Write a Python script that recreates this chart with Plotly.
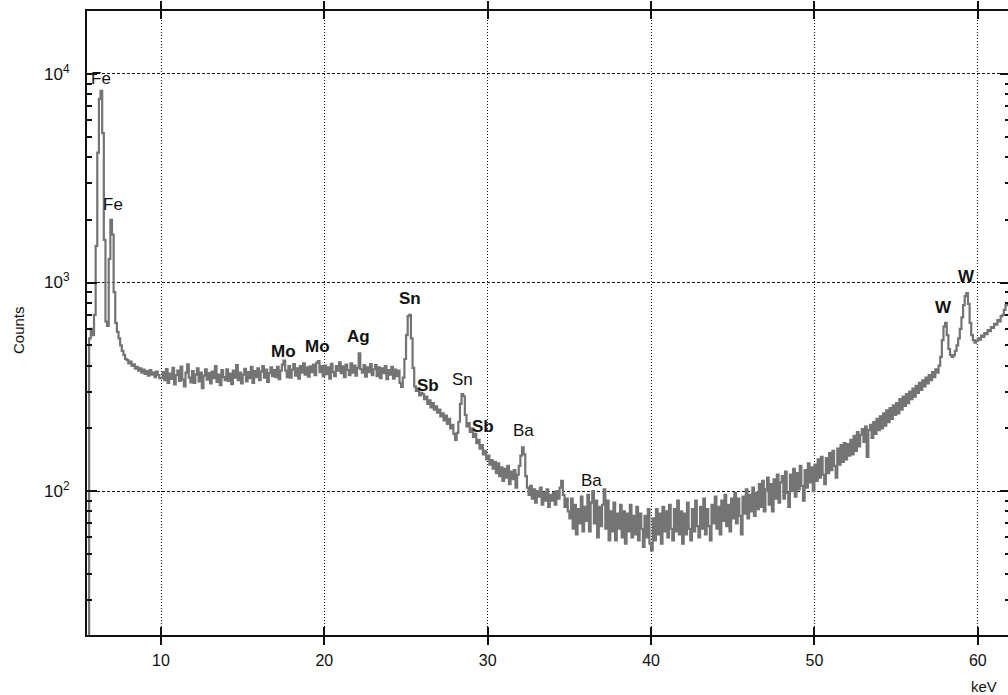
import math
import plotly.graph_objects as go

# Energy calibration of the first channel and channel width (keV)
E_START = 5.5
E_STEP = 0.1

# Counts per channel, 10 channels per row
counts_5 = [15, 540, 600, 560, 700, 1500, 4200, 7600, 8300, 5200]          # 5.5 - 6.4
counts_6 = [1600, 650, 620, 1300, 2000, 1700, 900, 640, 580, 540]          # 6.5 - 7.4
counts_7 = [500, 470, 450, 430, 425, 410, 418, 398, 405, 386]              # 7.5 - 8.4
counts_8 = [394, 378, 388, 370, 382, 365, 376, 358, 380, 362]              # 8.5 - 9.4
counts_9 = [371, 352, 374, 360, 348]                                        # 9.5 - 9.9
counts_10 = [348, 372, 340, 385, 330, 366, 345, 390, 325, 360]
counts_11 = [378, 338, 395, 342, 318, 370, 405, 350, 332, 376]
counts_12 = [330, 362, 388, 336, 370, 312, 358, 384, 342, 368]
counts_13 = [328, 374, 348, 398, 334, 362, 322, 380, 352, 340]
counts_14 = [384, 338, 366, 326, 378, 350, 402, 340, 370, 328]
counts_15 = [362, 386, 336, 372, 348, 394, 330, 376, 352, 388]
counts_16 = [340, 374, 398, 350, 382, 334, 368, 392, 356, 380]
counts_17 = [352, 394, 344, 378, 404, 422, 378, 352, 398, 350]
counts_18 = [382, 406, 358, 388, 346, 398, 370, 410, 362, 392]
counts_19 = [354, 396, 372, 404, 360, 412, 420, 372, 398, 356]
counts_20 = [400, 364, 392, 346, 408, 372, 356, 398, 378, 414]
counts_21 = [368, 396, 352, 404, 380, 360, 410, 370, 400, 358]
counts_22 = [390, 458, 384, 370, 402, 354, 392, 372, 406, 360]
counts_23 = [384, 402, 356, 392, 348, 388, 368, 398, 344, 380]
counts_24 = [362, 394, 346, 382, 356, 378, 330, 316, 350, 430]
counts_25 = [560, 690, 700, 540, 390, 318, 302, 310, 288, 296]
counts_26 = [292, 276, 284, 262, 272, 252, 264, 246, 255, 238]
counts_27 = [246, 228, 236, 218, 230, 210, 222, 200, 208, 188]
counts_28 = [176, 190, 215, 262, 292, 285, 232, 204, 212, 192]
counts_29 = [200, 182, 188, 170, 176, 160, 166, 150, 156, 142]
counts_30 = [148, 134, 141, 128, 138, 122, 136, 118, 130, 112]
counts_31 = [128, 116, 132, 108, 124, 114, 126, 104, 120, 132]
counts_32 = [148, 162, 150, 118, 104, 96, 106, 92, 102, 88]
counts_33 = [100, 94, 104, 86, 98, 90, 102, 84, 96, 90]
counts_34 = [98, 86, 100, 92, 104, 112, 96, 84, 92, 80]
counts_35 = [74, 92, 66, 86, 62, 82, 70, 94, 64, 84]
counts_36 = [72, 96, 64, 88, 100, 70, 90, 60, 84, 68]
counts_37 = [86, 102, 66, 90, 58, 80, 64, 88, 58, 78]
counts_38 = [66, 86, 60, 80, 56, 78, 64, 86, 60, 76]
counts_39 = [62, 84, 58, 78, 66, 54, 76, 60, 82, 56]
counts_40 = [52, 74, 58, 82, 62, 78, 56, 84, 64, 80]
counts_41 = [60, 86, 66, 58, 82, 64, 90, 62, 80, 56]
counts_42 = [78, 62, 88, 66, 58, 82, 64, 90, 68, 60]
counts_43 = [84, 66, 92, 62, 82, 68, 58, 86, 70, 94]
counts_44 = [66, 84, 62, 90, 72, 96, 68, 86, 64, 92]
counts_45 = [74, 98, 70, 92, 76, 62, 94, 78, 102, 74]
counts_46 = [96, 80, 104, 76, 98, 82, 108, 84, 112, 80]
counts_47 = [102, 116, 86, 108, 80, 114, 92, 120, 88, 110]
counts_48 = [118, 92, 124, 98, 84, 120, 100, 128, 94, 122]
counts_49 = [102, 132, 106, 90, 126, 104, 136, 110, 130, 100]
counts_50 = [134, 112, 142, 116, 146, 120, 108, 144, 122, 152]
counts_51 = [126, 156, 132, 116, 160, 134, 166, 138, 170, 142]
counts_52 = [168, 148, 176, 150, 184, 156, 192, 164, 186, 198]
counts_53 = [172, 204, 146, 196, 208, 180, 214, 188, 222, 196]
counts_54 = [228, 200, 236, 206, 244, 214, 250, 222, 258, 232]
counts_55 = [264, 236, 276, 246, 284, 256, 292, 264, 300, 276]
counts_56 = [310, 284, 320, 296, 330, 306, 340, 318, 350, 328]
counts_57 = [360, 340, 372, 352, 384, 370, 400, 440, 530, 615]
counts_58 = [640, 560, 480, 450, 440, 448, 470, 500, 540, 600]
counts_59 = [680, 780, 860, 890, 790, 640, 560, 530, 515, 525]
counts_60 = [540, 532, 556, 548, 572, 566, 592, 584, 612, 606]
counts_61 = [634, 628, 660, 652, 690, 700, 740, 780, 800]

spectrum_rows = [
    counts_5, counts_6, counts_7, counts_8, counts_9,
    counts_10, counts_11, counts_12, counts_13, counts_14, counts_15,
    counts_16, counts_17, counts_18, counts_19, counts_20, counts_21,
    counts_22, counts_23, counts_24, counts_25, counts_26, counts_27,
    counts_28, counts_29, counts_30, counts_31, counts_32, counts_33,
    counts_34, counts_35, counts_36, counts_37, counts_38, counts_39,
    counts_40, counts_41, counts_42, counts_43, counts_44, counts_45,
    counts_46, counts_47, counts_48, counts_49, counts_50, counts_51,
    counts_52, counts_53, counts_54, counts_55, counts_56, counts_57,
    counts_58, counts_59, counts_60, counts_61,
]

counts = [c for row in spectrum_rows for c in row]
energy = [round(E_START + i * E_STEP, 2) for i in range(len(counts))]

# Element line labels: name, energy (keV), label height (counts), bold
line_names = ["Fe", "Fe", "Mo", "Mo", "Ag", "Sn", "Sb", "Sn", "Sb", "Ba", "Ba", "W", "W"]
line_energy = [6.33, 7.06, 17.47, 19.61, 22.06, 25.24, 26.34, 28.48, 29.71, 32.22, 36.38, 57.92, 59.33]
line_height = [9560, 2356, 469, 491, 553, 834, 322, 344, 205, 196, 113, 762, 1074]
line_bold = [False, False, True, True, True, True, True, False, True, False, False, True, True]

x_ticks = [10, 20, 30, 40, 50, 60]
y_ticks = [100, 1000, 10000]
y_tick_text = ["10<sup>2</sup>", "10<sup>3</sup>", "10<sup>4</sup>"]
y_minor = [m * 10 ** d for d in (1, 2, 3) for m in range(2, 10)] + [20000]

FONT = "Liberation Sans, Arial, sans-serif"
INK = "#111111"

# plot-area geometry in pixels, used for paper-referenced titles
L, T, B, W = 87, 11, 635, 921
H = B - T

fig = go.Figure()
fig.add_trace(go.Scatter(
    x=energy, y=counts, mode="lines",
    line=dict(color="#747474", width=2.2, shape="hv"),
    showlegend=False, hoverinfo="skip",
))
# invisible trace to carry the right-hand tick axis
fig.add_trace(go.Scatter(x=[energy[1]], y=[counts[1]], yaxis="y2",
                         mode="markers", marker=dict(opacity=0),
                         showlegend=False, hoverinfo="skip"))

for name, e, h, b in zip(line_names, line_energy, line_height, line_bold):
    fig.add_annotation(
        x=e, y=math.log10(h), yref="y", xref="x",
        text=f"<b>{name}</b>" if b else name,
        showarrow=False, font=dict(family=FONT, size=17, color=INK),
        xanchor="center", yanchor="middle",
    )

y_range = [1.31, 4.302]

fig.update_layout(
    width=1008, height=695,
    margin=dict(l=L, r=0, t=T, b=695 - B),
    plot_bgcolor="white", paper_bgcolor="white",
    font=dict(family=FONT, color=INK),
    xaxis=dict(
        range=[5.47, 61.85],
        tickmode="array", tickvals=x_ticks,
        ticks="inside", ticklen=8, tickwidth=2, tickcolor=INK,
        showline=True, linewidth=2, linecolor=INK, mirror="allticks",
        showgrid=True, gridcolor=INK, gridwidth=1, griddash="1px,2px",
        zeroline=False,
        tickfont=dict(size=16, family=FONT, color=INK),
        ticklabelstandoff=10,
    ),
    yaxis=dict(
        type="log", range=y_range,
        tickmode="array", tickvals=y_ticks, ticktext=y_tick_text,
        ticks="inside", ticklen=10, tickwidth=2, tickcolor=INK,
        showline=True, linewidth=2, linecolor=INK, mirror=False,
        showgrid=True, gridcolor=INK, gridwidth=1, griddash="3px,2px",
        zeroline=False,
        minor=dict(tickmode="array", tickvals=y_minor, ticks="inside",
                   ticklen=5, tickwidth=2, tickcolor=INK, showgrid=False),
        tickfont=dict(size=17, family=FONT, color=INK),
        ticklabelstandoff=12,
    ),
    yaxis2=dict(
        type="log", range=y_range, overlaying="y", side="right",
        tickmode="array", tickvals=y_ticks,
        ticks="inside", ticklen=8, tickwidth=2, tickcolor=INK,
        showticklabels=False, showline=False, showgrid=False, zeroline=False,
        minor=dict(tickmode="array", tickvals=y_minor, ticks="inside",
                   ticklen=3, tickwidth=2, tickcolor=INK, showgrid=False),
    ),
)

fig.add_annotation(
    xref="paper", yref="paper", x=(18 - L) / W, y=(B - 330) / H,
    text="Counts", textangle=-90, showarrow=False,
    font=dict(family=FONT, size=15, color=INK),
    xanchor="center", yanchor="middle",
)
fig.add_annotation(
    xref="paper", yref="paper", x=(984 - L) / W, y=-(686 - B) / H,
    text="keV", showarrow=False, font=dict(family=FONT, size=15, color=INK),
    xanchor="center", yanchor="middle",
)

fig.write_html("out.html")
